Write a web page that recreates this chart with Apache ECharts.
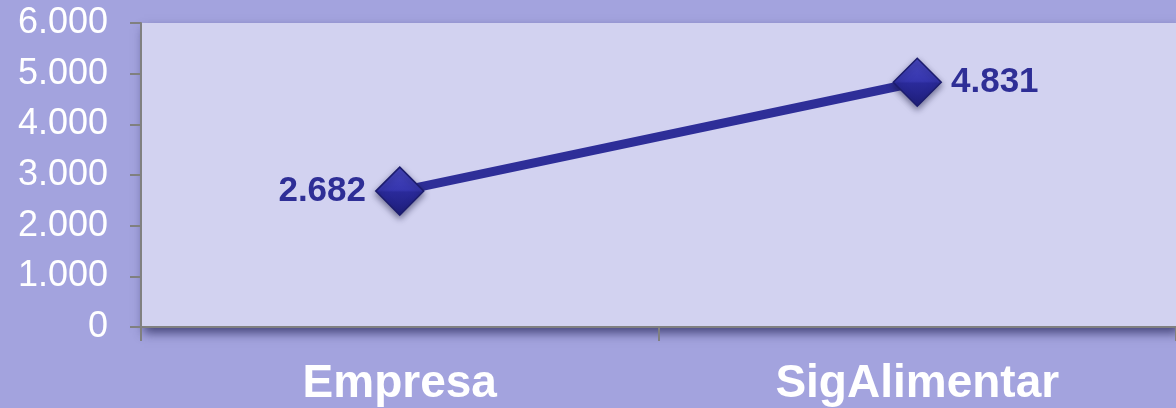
<!DOCTYPE html>
<html>
<head>
<meta charset="utf-8">
<script src="https://cdn.jsdelivr.net/npm/echarts@6/dist/echarts.min.js"></script>
<style>
  html, body { margin: 0; padding: 0; background: #A3A3DE; }
  #chart { width: 1176px; height: 408px; }
</style>
</head>
<body>
<div id="chart"></div>
<script>
const categories = ["Empresa", "SigAlimentar"];
const values = [2682, 4831];
const labelPositions = ["left", "right"];

const fmt = (v) => String(v).replace(/\B(?=(\d{3})+(?!\d))/g, ".");

const chart = echarts.init(document.getElementById("chart"));

chart.setOption({
  backgroundColor: "#A3A3DE",
  animation: false,
  grid: {
    left: 141, top: 23, bottom: 81, right: -5,
    show: true,
    backgroundColor: "#D2D2F0",
    borderWidth: 0,
    shadowColor: "rgba(30,30,80,0.7)",
    shadowBlur: 10,
    shadowOffsetY: 6,
    shadowOffsetX: 3
  },
  xAxis: {
    type: "category",
    data: categories,
    axisLine: { lineStyle: { color: "#808080", width: 2 } },
    axisTick: { show: true, length: 14, lineStyle: { color: "#808080", width: 2 } },
    axisLabel: {
      color: "#FFFFFF", fontFamily: "Liberation Sans, Arial, sans-serif",
      fontSize: 46, fontWeight: "bold", margin: 34
    }
  },
  yAxis: {
    type: "value",
    min: 0, max: 6000, interval: 1000,
    splitLine: { show: false },
    axisLine: { show: true, lineStyle: { color: "#808080", width: 2 } },
    axisTick: { show: true, length: 11, lineStyle: { color: "#808080", width: 2 } },
    axisLabel: {
      color: "#FFFFFF", fontFamily: "Liberation Sans, Arial, sans-serif",
      fontSize: 36, margin: 33, formatter: fmt
    }
  },
  series: [{
    type: "line",
    data: values.map((v, i) => ({ value: v, label: { position: labelPositions[i] } })),
    lineStyle: { color: "#2E2E98", width: 9 },
    symbol: "diamond",
    symbolSize: 48,
    itemStyle: {
      color: {
        type: "linear", x: 0, y: 0, x2: 0, y2: 1,
        colorStops: [
          { offset: 0, color: "#4848C0" },
          { offset: 0.48, color: "#3636AE" },
          { offset: 0.52, color: "#2A2A9A" },
          { offset: 1, color: "#1E1E7A" }
        ]
      },
      borderColor: "#1C1C6E",
      borderWidth: 1.5,
      shadowColor: "rgba(20,20,60,0.5)",
      shadowBlur: 6,
      shadowOffsetY: 3
    },
    label: {
      show: true,
      color: "#2E2E96",
      fontFamily: "Liberation Sans, Arial, sans-serif",
      fontSize: 35, fontWeight: "bold",
      distance: 9,
      formatter: (p) => fmt(p.value)
    }
  }]
});
</script>
</body>
</html>
